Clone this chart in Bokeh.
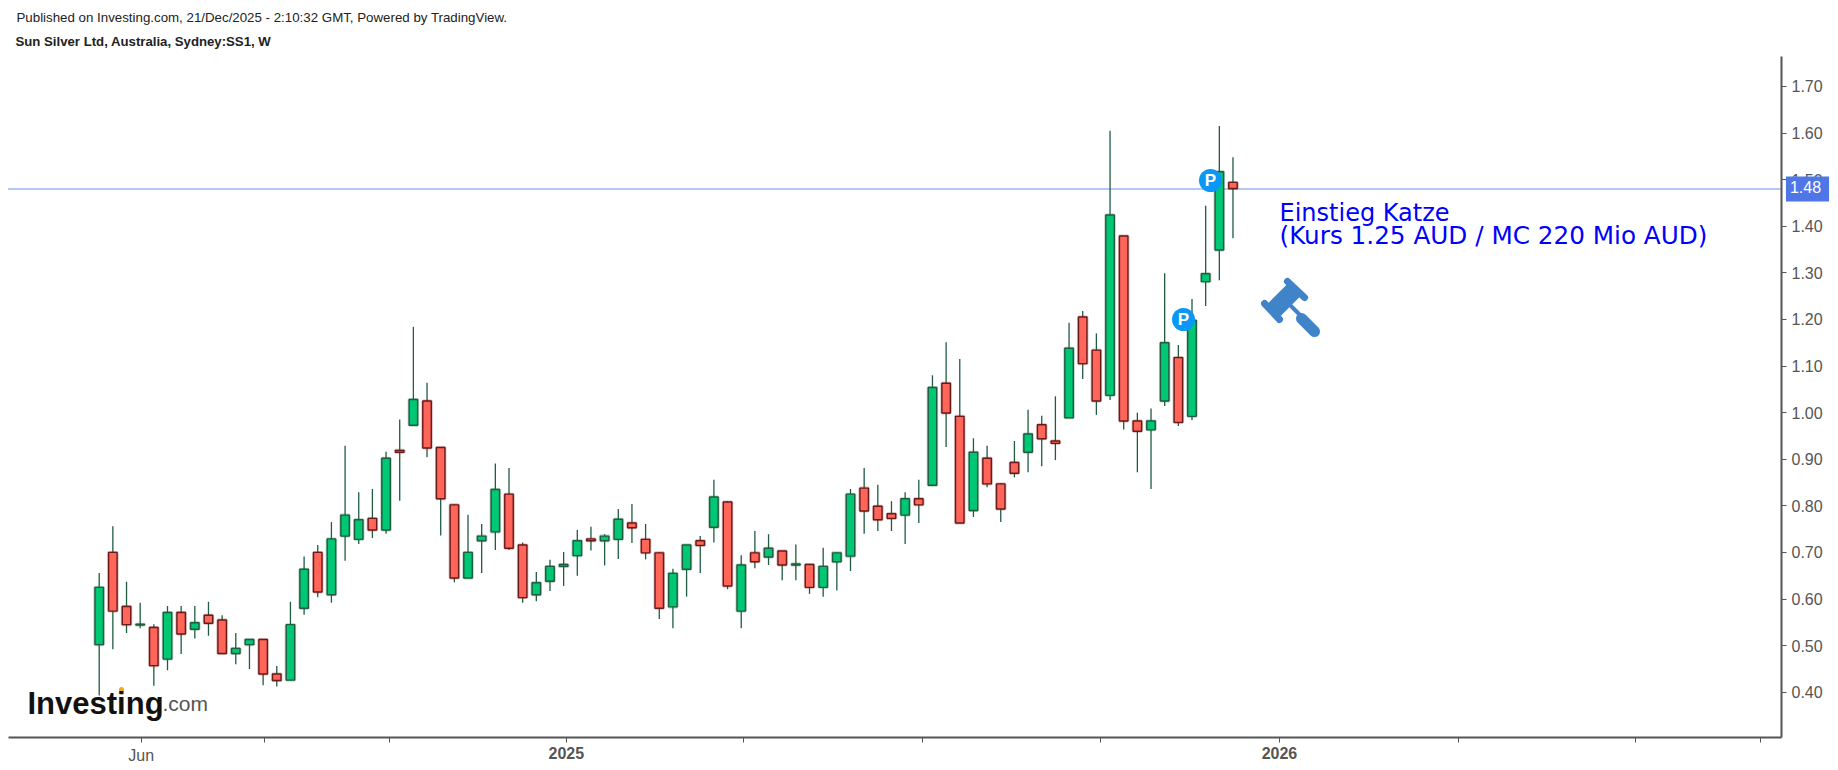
from bokeh.plotting import figure
from bokeh.embed import file_html
from bokeh.resources import INLINE
from bokeh.models import ColumnDataSource, Range1d, LinearAxis, FixedTicker, Label
from bokeh.core.properties import value

opens = [.502,.70,.584,.544,.539,.471,.571,.535,.565,.555,.483,.502,.513,.439,.426,.580,.700,.609,.735,.728,.773,.748,.919,.973,1.025,.925,.802,.645,.725,.744,.825,.716,.609,.638,.670,.693,.729,.725,.728,.763,.728,.699,.583,.664,.725,.754,.808,.574,.699,.690,.703,.673,.674,.625,.680,.692,.838,.799,.783,.780,.815,.844,1.063,.992,.790,.902,.847,.893,.915,.974,.939,.989,1.205,1.134,1.037,1.379,.982,.963,1.025,1.118,.992,1.281,1.349,1.494]
highs = [.656,.756,.637,.592,.546,.585,.585,.585,.594,.565,.527,.513,.513,.456,.594,.691,.716,.765,.929,.829,.836,.916,.985,1.184,1.064,.925,.804,.781,.761,.891,.881,.721,.658,.684,.701,.748,.755,.739,.793,.804,.761,.701,.665,.716,.735,.856,.810,.694,.746,.739,.703,.717,.675,.710,.700,.836,.881,.845,.810,.829,.856,1.080,1.151,1.115,.945,.929,.849,.939,1.006,.993,1.035,1.193,1.218,1.170,1.605,1.379,1.0,1.009,1.299,1.145,1.244,1.444,1.615,1.548]
lows = [.393,.492,.527,.537,.414,.447,.482,.515,.521,.483,.460,.450,.415,.412,.426,.566,.604,.592,.682,.718,.731,.740,.811,.973,.904,.736,.636,.645,.656,.705,.705,.592,.595,.617,.628,.650,.704,.672,.686,.720,.685,.557,.537,.605,.656,.721,.621,.537,.666,.673,.640,.640,.611,.605,.618,.660,.740,.746,.746,.718,.763,.844,.926,.763,.776,.840,.765,.861,.872,.885,.898,.989,1.072,.995,1.027,.964,.872,.836,1.014,.971,.984,1.229,1.284,1.374]
closes = [.625,.574,.545,.546,.457,.571,.525,.549,.548,.483,.494,.513,.439,.425,.545,.664,.615,.729,.780,.770,.748,.902,.915,1.028,.924,.815,.645,.700,.735,.835,.709,.603,.635,.670,.674,.725,.725,.735,.771,.753,.699,.580,.655,.716,.715,.819,.628,.673,.680,.709,.673,.675,.625,.670,.699,.825,.789,.770,.773,.815,.802,1.054,.999,.763,.915,.847,.793,.870,.954,.944,.934,1.138,1.105,1.025,1.424,.982,.960,.982,1.150,.979,1.198,1.298,1.517,1.481]
last_price = 1.48
price_ticks = [0.40,0.50,0.60,0.70,0.80,0.90,1.00,1.10,1.20,1.30,1.40,1.50,1.60,1.70]
time_ticks = [3.07,12.1,21.26,34.2,47.2,60.3,73.3,86.4,99.5,112.5,121.6]
bold_time_labels = [(34.2,"2025"),(86.4,"2026")]

GREEN, RED = "#00c774", "#ff6659"
GREEN_EDGE, RED_EDGE = "#1f5c40", "#6b1a1a"
WICK = "#1f5c40"
GREY = "#555555"
SANS = "Liberation Sans"

W, H = 1830, 768
F_L, F_R, F_T, F_B = 8, 1781, 56, 737          # chart box edges in page pixels
# the frame fills the whole figure so texts outside the chart box are shown
xr = Range1d((0 - 98.7) / 13.66, (W - 98.7) / 13.66)
yr = Range1d(0.40 + (691.7 - H) / 466.0, 0.40 + 691.7 / 466.0)

def px(x):
    return xr.start + x / W * (xr.end - xr.start)
def py(y):
    return yr.end - y / H * (yr.end - yr.start)

p = figure(width=W, height=H, x_range=xr, y_range=yr, output_backend="svg",
           toolbar_location=None, x_axis_location=None, y_axis_location=None,
           min_border_left=0, min_border_right=0, min_border_top=0,
           min_border_bottom=0, tools="")
p.outline_line_color = None
p.grid.visible = False
p.background_fill_color = "#ffffff"

xa = LinearAxis(ticker=FixedTicker(ticks=time_ticks), fixed_location=py(F_B),
                bounds=(px(F_L), px(F_R)))
xa.major_label_overrides = {time_ticks[i]: ("Jun" if i == 0 else "") for i in range(len(time_ticks))}
ya = LinearAxis(ticker=FixedTicker(ticks=price_ticks), fixed_location=px(F_R),
                bounds=(py(F_B), py(F_T)))
ya.major_label_overrides = {t: f"{t:.2f}" for t in price_ticks}
for a in (xa, ya):
    a.major_label_text_font = SANS
    a.major_label_text_font_size = "16px"
    a.major_label_text_color = GREY
    a.major_label_standoff = 5
    a.axis_line_color = GREY
    a.axis_line_width = 2
    a.major_tick_line_color = GREY
    a.major_tick_in = 0
    a.major_tick_out = 5
    a.minor_tick_line_color = None
xa.major_label_standoff = 4
p.add_layout(xa, "below")
p.add_layout(ya, "right")

p.line([px(F_L), px(F_R)], [last_price, last_price], line_color="#3f68e6",
       line_width=1.5, line_dash="1 1")

idx = list(range(len(opens)))
src = ColumnDataSource(dict(
    x=idx, o=opens, h=highs, l=lows, c=closes,
    fill=[GREEN if c >= o else RED for o, c in zip(opens, closes)],
    edge=[GREEN_EDGE if c >= o else RED_EDGE for o, c in zip(opens, closes)],
))
p.segment("x", "h", "x", "l", source=src, line_color=WICK, line_width=1.3)
p.vbar(x="x", top="o", bottom="c", width=0.62, source=src, fill_color="fill",
       line_color="edge", line_width=3, line_alpha=0.3)
p.vbar(x="x", top="o", bottom="c", width=0.62, source=src, fill_color="fill",
       line_color="edge", line_width=1.4)

# Publication markers
p.scatter([px(1183), px(1210)], [py(319), py(180)], size=23, marker="circle",
          fill_color="#0a97f5", line_color=None)
p.text([px(1183), px(1210)], [py(319), py(180)], text=["P", "P"], text_color="#ffffff",
       text_align="center", text_baseline="middle", text_font=value(SANS),
       text_font_style="bold", text_font_size="17px")

# Gavel drawing
GAVEL = "#3f84c8"
for (x0, y0, x1, y1, w, cap) in [
    (1272, 311, 1295, 288, 18, "butt"),
    (1264, 303, 1279, 319, 7, "round"),
    (1287, 281, 1304, 297, 7, "round"),
    (1290, 305, 1301, 316, 4, "butt"),
    (1301, 318, 1314, 331, 11, "round"),
]:
    p.line([px(x0), px(x1)], [py(y0), py(y1)], line_color=GAVEL, line_width=w, line_cap=cap)

def lab(x, y, text, **kw):
    a = dict(text_font=SANS, text_baseline="middle", text_align="left", level="overlay")
    a.update(kw)
    p.add_layout(Label(x=px(x), y=py(y), text=text, **a))

lab(16, 17, "Published on Investing.com, 21/Dec/2025 - 2:10:32 GMT, Powered by TradingView.",
    text_font_size="13.3px", text_color="#222222")
lab(15, 41, "Sun Silver Ltd, Australia, Sydney:SS1, W", text_font_size="13.2px",
    text_font_style="bold", text_color="#222222")
lab(1279, 212, "Einstieg Katze", text_font="DejaVu Sans", text_font_size="24px", text_color="#0000ff")
lab(1279, 235, "(Kurs 1.25 AUD / MC 220 Mio AUD)", text_font="DejaVu Sans", text_font_size="24.7px",
    text_color="#0000ff")

for t, s in bold_time_labels:
    p.add_layout(Label(x=t, y=py(752), text=s, text_font=SANS, text_font_size="16px",
                       text_font_style="bold", text_color=GREY, text_align="center",
                       text_baseline="middle", level="overlay"))

p.add_layout(Label(x=px(1807), y=last_price, text=f"{last_price:.2f}", text_font=SANS,
                   text_font_size="16px", text_color="#ffffff", text_align="center",
                   text_baseline="middle", background_fill_color="#4f76e6",
                   padding=(4, 8, 5, 8), level="overlay"))

# Watermark
lab(27, 703, "Investing", text_font_size="31px", text_font_style="bold", text_color="#111111",
    text_baseline="alphabetic")
lab(162, 703, ".com", text_font_size="21px", text_color=GREY, text_baseline="alphabetic")
p.scatter([px(121)], [py(689)], size=5, marker="circle", fill_color="#f5a623", line_color=None)

open("out.html", "w").write(file_html(p, INLINE))
